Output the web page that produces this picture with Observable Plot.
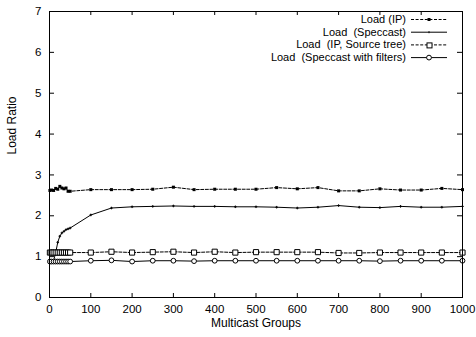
<!DOCTYPE html>
<html><head><meta charset="utf-8">
<script src="https://cdn.jsdelivr.net/npm/d3@7"></script>
<script src="https://cdn.jsdelivr.net/npm/@observablehq/plot@0.6"></script>
<style>body{margin:0;background:#fff} svg{display:block}</style>
</head><body><div id="chart"></div>
<script>
const groups = [1,5,10,15,20,25,30,35,40,45,50,100,150,200,250,300,350,400,450,500,550,600,650,700,750,800,850,900,950,1000];
const loadIP = [2.62,2.63,2.62,2.67,2.65,2.72,2.68,2.66,2.68,2.6,2.6,2.64,2.64,2.64,2.65,2.7,2.64,2.65,2.65,2.65,2.69,2.66,2.69,2.61,2.61,2.66,2.63,2.63,2.67,2.64];
const loadSpeccast = [0.9,0.9,0.9,1.1,1.35,1.5,1.58,1.62,1.66,1.68,1.7,2.02,2.19,2.22,2.23,2.24,2.23,2.23,2.22,2.22,2.21,2.19,2.21,2.25,2.21,2.2,2.23,2.21,2.21,2.23];
const loadSourceTree = [1.1,1.1,1.1,1.1,1.1,1.1,1.1,1.1,1.1,1.1,1.1,1.1,1.12,1.1,1.11,1.12,1.1,1.12,1.1,1.11,1.11,1.11,1.11,1.09,1.09,1.1,1.1,1.1,1.1,1.1];
const loadFilters = [0.88,0.88,0.88,0.88,0.88,0.88,0.88,0.88,0.88,0.88,0.88,0.9,0.91,0.88,0.9,0.9,0.89,0.9,0.9,0.9,0.9,0.9,0.9,0.9,0.9,0.89,0.9,0.9,0.9,0.9];
const seriesNames = ["Load (IP)", "Load  (Speccast)", "Load  (IP, Source tree)", "Load  (Speccast with filters)"];
const xTicks = [0,100,200,300,400,500,600,700,800,900,1000];
const yTicks = [0,1,2,3,4,5,6,7];
const xLabel = "Multicast Groups";
const yLabel = "Load Ratio";

const W = 476, H = 337, mL = 49, mR = 14, mT = 11, mB = 40;
const innerH = H - mT - mB, innerW = W - mL - mR;
const font = "'Liberation Sans', Arial, Helvetica, sans-serif";

const rows = (vals) => groups.map((g, i) => ({x: g, y: vals[i]}));
const ip = rows(loadIP), sp = rows(loadSpeccast), st = rows(loadSourceTree), sf = rows(loadFilters);
const dash = "3,1.6";

const chart = Plot.plot({
  width: W, height: H,
  marginLeft: mL, marginRight: mR, marginTop: mT, marginBottom: mB,
  style: {fontFamily: font, fontSize: "11px", background: "white", color: "black", overflow: "visible"},
  x: {domain: [0, 1000]},
  y: {domain: [0, 7]},
  marks: [
    Plot.axisX(xTicks, {tickSize: 0, tickPadding: 7, label: null, fontSize: 11.5, tickFormat: d3.format("d")}),
    Plot.axisY(yTicks, {tickSize: 0, tickPadding: 8, label: null, fontSize: 11.5, tickFormat: d3.format("d")}),
    Plot.tickX(xTicks, {x: d => d, insetTop: innerH - 4, stroke: "black"}),
    Plot.tickX(xTicks, {x: d => d, insetBottom: innerH - 4, stroke: "black"}),
    Plot.tickY(yTicks, {y: d => d, insetRight: innerW - 5, stroke: "black"}),
    Plot.tickY(yTicks, {y: d => d, insetLeft: innerW - 5, stroke: "black"}),
    Plot.line(ip, {x: "x", y: "y", stroke: "black", strokeWidth: 1, strokeDasharray: dash}),
    Plot.dot(ip, {x: "x", y: "y", symbol: "square", r: 1.7, fill: "black", stroke: "none"}),
    Plot.line(sp, {x: "x", y: "y", stroke: "black", strokeWidth: 1}),
    Plot.dot(sp, {x: "x", y: "y", symbol: "plus", r: 0.9, stroke: "black", strokeWidth: 1}),
    Plot.line(st, {x: "x", y: "y", stroke: "black", strokeWidth: 1, strokeDasharray: dash}),
    Plot.dot(st, {x: "x", y: "y", symbol: "square", r: 2.9, fill: "white", stroke: "black", strokeWidth: 1}),
    Plot.line(sf, {x: "x", y: "y", stroke: "black", strokeWidth: 1}),
    Plot.dot(sf, {x: "x", y: "y", symbol: "circle", r: 2.4, fill: "white", stroke: "black", strokeWidth: 1}),
    Plot.frame({stroke: "black", strokeWidth: 1}),
    Plot.text([xLabel], {frameAnchor: "bottom", dy: 29, fontSize: 12}),
    Plot.text([yLabel], {frameAnchor: "left", dx: -37, rotate: -90, fontSize: 12})
  ]
});
document.getElementById("chart").appendChild(chart);

// legend (inside top-right, gnuplot style)
const svg = d3.select(chart);
const lg = svg.append("g").attr("font-family", font).attr("font-size", 11);
const legY = [19, 31.7, 44.4, 57.1], textEnd = 406, l1 = 411, l2 = 447, mx = 429;
seriesNames.forEach((name, i) => {
  const y = legY[i];
  lg.append("text").attr("x", textEnd).attr("y", y).attr("dy", "0.35em").attr("text-anchor", "end").attr("fill", "black").text(name);
  const ln = lg.append("line").attr("x1", l1).attr("x2", l2).attr("y1", y + 0.5).attr("y2", y + 0.5).attr("stroke", "black").attr("stroke-width", 1);
  if (i === 0 || i === 2) ln.attr("stroke-dasharray", dash);
  if (i === 0) lg.append("rect").attr("x", mx - 1.5).attr("y", y - 1).attr("width", 3).attr("height", 3).attr("fill", "black");
  if (i === 1) lg.append("line").attr("x1", mx).attr("x2", mx).attr("y1", y - 0.5).attr("y2", y + 1.5).attr("stroke", "black");
  if (i === 2) lg.append("rect").attr("x", mx - 2).attr("y", y - 1.5).attr("width", 5).attr("height", 5).attr("fill", "white").attr("stroke", "black");
  if (i === 3) lg.append("circle").attr("cx", mx).attr("cy", y + 0.5).attr("r", 2.4).attr("fill", "white").attr("stroke", "black");
});
</script></body></html>
